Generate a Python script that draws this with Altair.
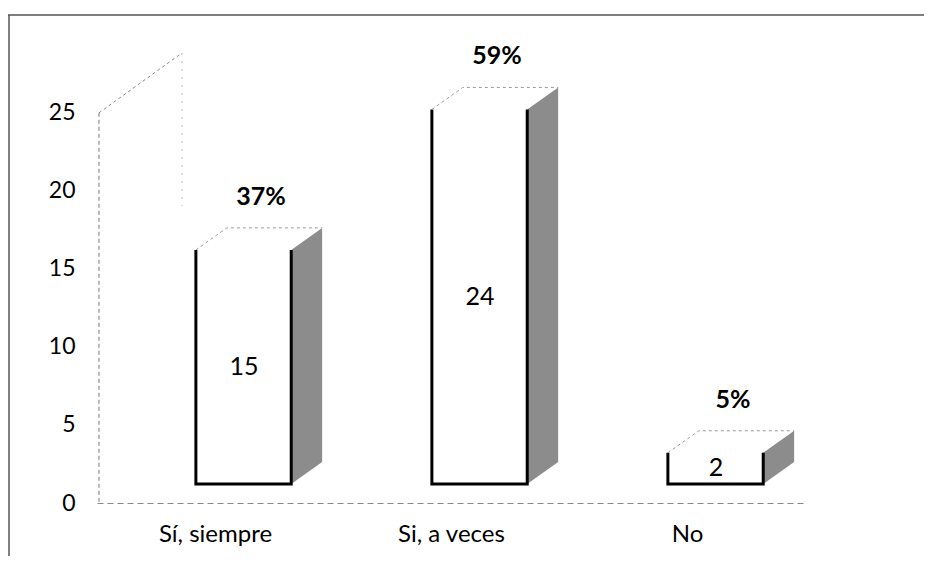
import altair as alt
import pandas as pd

# ---- data ----
categories = ["Sí, siempre", "Si, a veces", "No"]
counts = [15, 24, 2]
percent_labels = ["37%", "59%", "5%"]
y_ticks = [0, 5, 10, 15, 20, 25]

# ---- layout / 3D look constants (not data) ----
W, H = 708, 437
FRONT_L, FRONT_R = 0.419, 0.823   # bar front face inside each category slot (slot units)
DEPTH_X = 0.131                   # side-face depth (slot units)
DEPTH_Y = 1.41                    # side-face rise (value units)
BASE_SHIFT = -19                  # bars sit above the floor line (px)
FONT = "Lato"

base = pd.DataFrame({"cat": categories, "count": counts, "pct": percent_labels})
base["half"] = base["count"] / 2

front_rows, side_rows, top_rows = [], [], []
for i, (c, v) in enumerate(zip(categories, counts)):
    L, R = i + FRONT_L, i + FRONT_R
    for k, (px, py) in enumerate([(L, v), (L, 0), (R, 0), (R, v)]):
        front_rows.append({"cat": c, "pos": px, "y": py, "k": k})
    side_rows.append({"cat": c, "pos": R, "top": v, "bot": 0})
    side_rows.append({"cat": c, "pos": R + DEPTH_X, "top": v + DEPTH_Y, "bot": DEPTH_Y})
    for k, (px, py) in enumerate([(L, v), (L + DEPTH_X, v + DEPTH_Y), (R + DEPTH_X, v + DEPTH_Y)]):
        top_rows.append({"cat": c, "pos": px, "y": py, "k": k})

front_df = pd.DataFrame(front_rows)
side_df = pd.DataFrame(side_rows)
top_df = pd.DataFrame(top_rows)

yscale = alt.Scale(domain=[0, 28], nice=False, zero=True)
yaxis = alt.Axis(values=y_ticks, title=None)
xq = alt.X("pos:Q", scale=alt.Scale(domain=[0, 3], nice=False, zero=False), axis=None)

side = alt.Chart(side_df).mark_area(
    color="#8c8c8c", orient="vertical", yOffset=BASE_SHIFT, y2Offset=BASE_SHIFT
).encode(
    x=xq,
    y=alt.Y("top:Q", scale=yscale, axis=yaxis, stack=None),
    y2="bot:Q",
    detail="cat:N",
)

front = alt.Chart(front_df).mark_line(
    color="black", strokeWidth=3, yOffset=BASE_SHIFT, strokeJoin="miter"
).encode(
    x=xq,
    y=alt.Y("y:Q", scale=yscale, axis=yaxis),
    detail="cat:N",
    order="k:O",
)

topface = alt.Chart(top_df).mark_line(
    color="#9a9a9a", strokeWidth=1, strokeDash=[3, 3], yOffset=BASE_SHIFT
).encode(
    x=xq,
    y=alt.Y("y:Q", scale=yscale, axis=yaxis),
    detail="cat:N",
    order="k:O",
)

dummy = pd.DataFrame({"a": [0]})
wall = alt.Chart(dummy).mark_rule(color="#777", strokeWidth=1, strokeDash=[4, 3]).encode(
    x=alt.value(2), y=alt.datum(25), y2=alt.datum(0)
)
wall_diag = alt.Chart(dummy).mark_rule(color="#888", strokeWidth=1, strokeDash=[3, 3]).encode(
    x=alt.value(2), x2=alt.value(85), y=alt.datum(25), y2=alt.value(-13)
)
wall_back = alt.Chart(dummy).mark_rule(color="#bbb", strokeWidth=1, strokeDash=[2, 6]).encode(
    x=alt.value(85), y=alt.value(-13), y2=alt.value(140)
)
border_top = alt.Chart(dummy).mark_rule(color="#555", strokeWidth=1.5).encode(
    x=alt.value(-89), x2=alt.value(W + 119), y=alt.value(-51)
)
border_left = alt.Chart(dummy).mark_rule(color="#555", strokeWidth=1.5).encode(
    x=alt.value(-88), y=alt.value(-51), y2=alt.value(H + 53)
)

xb = alt.X(
    "cat:N",
    sort=categories,
    scale=alt.Scale(paddingInner=0, paddingOuter=0),
    axis=alt.Axis(
        title=None, ticks=False, labelAngle=0, labelFont=FONT, labelFontSize=24,
        labelPadding=19, labelColor="black", domain=True, domainColor="#888",
        domainDash=[6, 4], domainWidth=1,
    ),
)

values = alt.Chart(base).mark_text(
    font=FONT, fontSize=25, color="black", dx=29, dy=BASE_SHIFT, baseline="middle"
).encode(
    x=xb,
    y=alt.Y("half:Q", scale=yscale, axis=yaxis),
    text="count:Q",
)

pcts = alt.Chart(base).mark_text(
    font=FONT, fontSize=25, fontWeight="bold", color="black", dx=46, dy=-72, baseline="middle"
).encode(
    x=xb,
    y=alt.Y("count:Q", scale=yscale, axis=yaxis),
    text="pct:N",
)

geom = alt.layer(border_top, border_left, wall, wall_diag, wall_back, side, front, topface)
labels = alt.layer(values, pcts)

chart = alt.layer(geom, labels).resolve_scale(x="independent").properties(
    width=W,
    height=H,
    autosize=alt.AutoSizeParams(type="none"),
    padding={"left": 89, "top": 58, "right": 119, "bottom": 53},
    background="white",
).configure_view(stroke=None).configure_axisY(
    domain=False, ticks=False, grid=False, labelFont=FONT, labelFontSize=23,
    labelPadding=22, labelColor="black",
).configure_axisX(grid=False)

chart.save("out.html", embed_options={"renderer": "svg", "actions": False})
